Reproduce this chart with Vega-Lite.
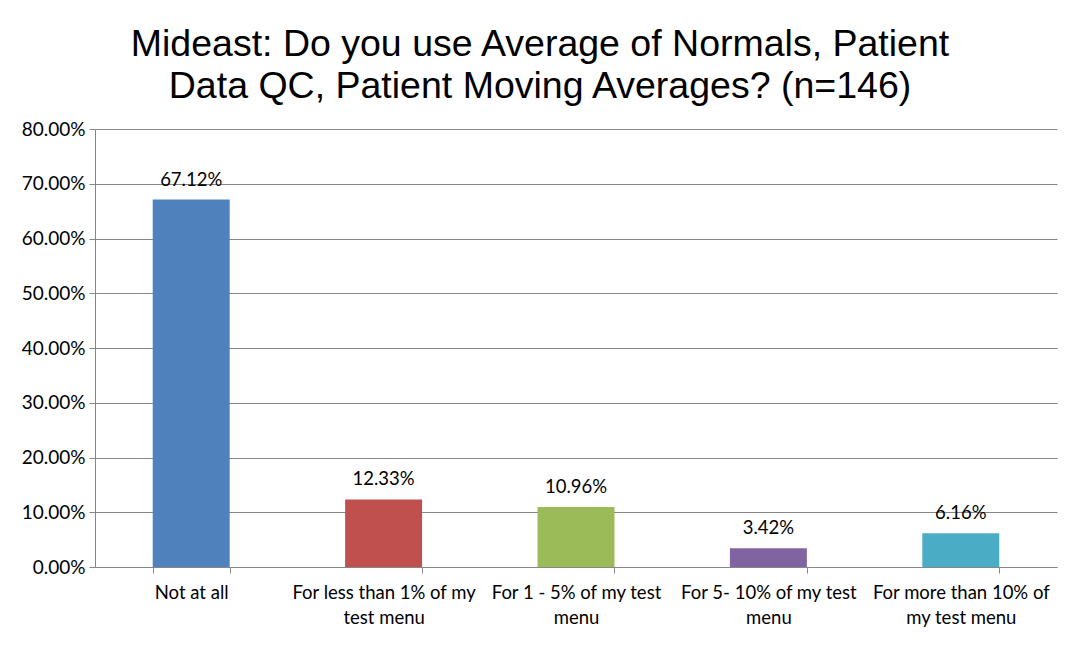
{
  "$schema": "https://vega.github.io/schema/vega-lite/v6.json",
  "width": 962,
  "height": 438,
  "autosize": {"type": "none"},
  "padding": {"left": 95, "top": 129, "right": 24, "bottom": 78},
  "background": "white",
  "title": {
    "text": ["Mideast: Do you use Average of Normals, Patient", "Data QC, Patient Moving Averages? (n=146)"],
    "fontSize": 37.5,
    "font": "Liberation Sans",
    "fontWeight": "normal",
    "color": "#000000",
    "anchor": "middle",
    "dx": -36,
    "offset": 15,
    "lineHeight": 42
  },
  "data": {
    "values": [
      {"answer": "Not at all", "share": 0.6712, "label": "67.12%"},
      {"answer": "For less than 1% of my test menu", "share": 0.1233, "label": "12.33%"},
      {"answer": "For 1 - 5% of my test menu", "share": 0.1096, "label": "10.96%"},
      {"answer": "For 5- 10% of my test menu", "share": 0.0342, "label": "3.42%"},
      {"answer": "For more than 10% of my test menu", "share": 0.0616, "label": "6.16%"}
    ]
  },
  "encoding": {
    "x": {
      "field": "answer",
      "type": "nominal",
      "sort": null,
      "title": null,
      "scale": {"paddingInner": 0.6, "paddingOuter": 0.3},
      "axis": {
        "labelAngle": 0,
        "labelFont": "Lato",
        "labelFontSize": 18.5,
        "labelColor": "#000000",
        "labelPadding": 10,
        "labelLineHeight": 25,
        "labelLimit": 300,
        "domainColor": "#868686",
        "tickColor": "#868686",
        "tickBand": "extent",
        "tickSize": 6,
        "labelExpr": "datum.value == 'For less than 1% of my test menu' ? ['For less than 1% of my', 'test menu'] : datum.value == 'For 1 - 5% of my test menu' ? ['For 1 - 5% of my test', 'menu'] : datum.value == 'For 5- 10% of my test menu' ? ['For 5- 10% of my test', 'menu'] : datum.value == 'For more than 10% of my test menu' ? ['For more than 10% of', 'my test menu'] : datum.value"
      }
    },
    "y": {
      "field": "share",
      "type": "quantitative",
      "title": null,
      "scale": {"domain": [0, 0.8]},
      "axis": {
        "values": [0, 0.1, 0.2, 0.3, 0.4, 0.5, 0.6, 0.7, 0.8],
        "format": ".2%",
        "labelFont": "Lato",
        "labelFontSize": 19,
        "labelColor": "#000000",
        "labelPadding": 4,
        "domainColor": "#868686",
        "tickColor": "#868686",
        "tickSize": 6,
        "grid": true,
        "gridColor": "#868686",
        "gridOpacity": 1
      }
    }
  },
  "layer": [
    {
      "mark": {"type": "bar"},
      "encoding": {
        "color": {
          "field": "answer",
          "type": "nominal",
          "sort": null,
          "legend": null,
          "scale": {"range": ["#4F81BD", "#C0504D", "#9BBB59", "#8064A2", "#4BACC6"]}
        }
      }
    },
    {
      "mark": {"type": "text", "baseline": "alphabetic", "dy": -14, "font": "Lato", "fontSize": 18.5, "color": "#000000"},
      "encoding": {"text": {"field": "label", "type": "nominal"}}
    }
  ],
  "config": {"view": {"stroke": null}}
}
